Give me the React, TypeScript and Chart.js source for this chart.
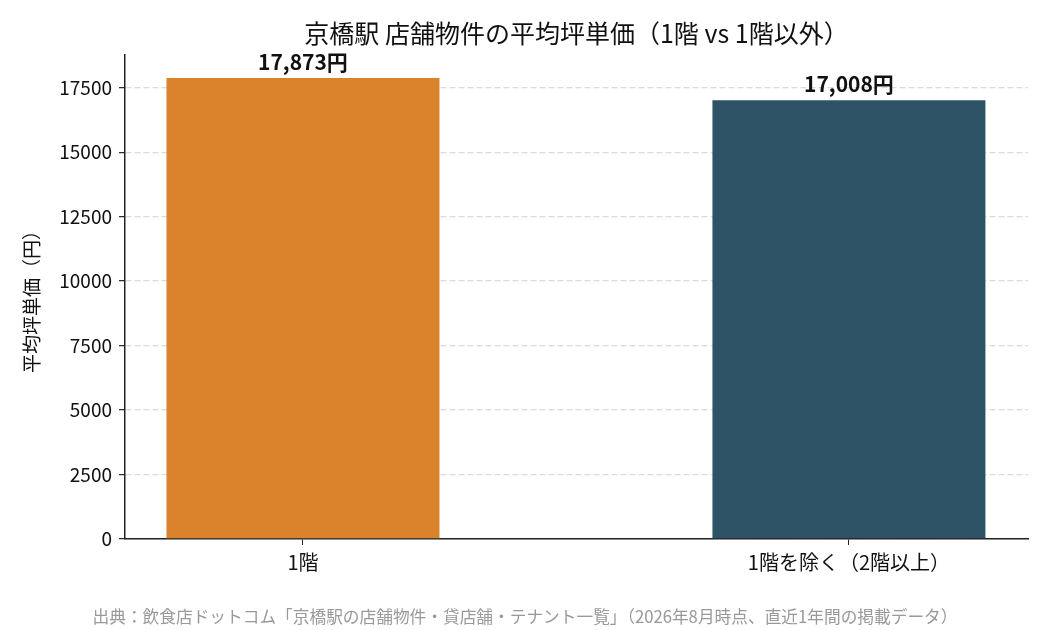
import { useEffect, useRef } from "react";
import { Chart, registerables, type ChartConfiguration, type Plugin } from "chart.js";

Chart.register(...registerables);

const FONT = "'Noto Sans CJK JP', 'Noto Sans', sans-serif";

const TITLE = "京橋駅 店舗物件の平均坪単価（1階 vs 1階以外）";
const Y_TITLE = "平均坪単価（円）";
const SOURCE =
  "出典：飲食店ドットコム「京橋駅の店舗物件・貸店舗・テナント一覧」（2026年8月時点、直近1年間の掲載データ）";

const categories = ["1階", "1階を除く（2階以上）"];
const avgPrice = [17873, 17008];
const barColors = ["#DB832C", "#2E5266"];
const yTicks = [0, 2500, 5000, 7500, 10000, 12500, 15000, 17500];

const fmtYen = (v: number) => v.toLocaleString("en-US") + "円";

// title over the plot area, source note at the bottom, value labels on bars
const textPlugin: Plugin<"bar"> = {
  id: "texts",
  afterDraw(chart) {
    const { ctx, chartArea, width, height } = chart;
    ctx.save();
    ctx.fillStyle = "#111";
    ctx.textAlign = "center";
    ctx.textBaseline = "middle";
    ctx.font = `25px ${FONT}`;
    ctx.fillText(TITLE, (chartArea.left + chartArea.right) / 2, chartArea.top - 22);

    ctx.fillStyle = "#999";
    ctx.font = `16.7px ${FONT}`;
    ctx.fillText(SOURCE, width / 2, height - 13);

    const meta = chart.getDatasetMeta(0);
    ctx.fillStyle = "#111";
    ctx.font = `bold 21px ${FONT}`;
    ctx.textBaseline = "bottom";
    meta.data.forEach((bar, i) => {
      ctx.fillText(fmtYen(avgPrice[i]), bar.x, bar.y - 6);
    });
    ctx.restore();
  },
};

export default function App() {
  const canvasRef = useRef<HTMLCanvasElement>(null);
  const chartRef = useRef<Chart | null>(null);

  useEffect(() => {
    document.body.style.margin = "0";
    const ctx = canvasRef.current?.getContext("2d");
    if (!ctx) return;
    chartRef.current?.destroy();

    const config: ChartConfiguration<"bar"> = {
      type: "bar",
      data: {
        datasets: [
          {
            data: avgPrice.map((v, i) => ({ x: i, y: v })),
            backgroundColor: barColors,
            borderWidth: 0,
            barPercentage: 0.5,
            categoryPercentage: 1,
          },
        ],
      },
      options: {
        responsive: false,
        animation: false,
        layout: { padding: { top: 55, right: 22, left: 0, bottom: 0 } },
        plugins: {
          legend: { display: false },
          title: { display: false },
          tooltip: { enabled: false },
        },
        scales: {
          x: {
            type: "linear",
            offset: false,
            min: -0.326,
            max: 1.328,
            afterBuildTicks: (s) => {
              s.ticks = categories.map((_, i) => ({ value: i }));
            },
            afterFit: (s) => {
              s.height = 91;
            },
            ticks: {
              color: "#111",
              font: { family: FONT, size: 20 },
              padding: 5,
              maxRotation: 0,
              autoSkip: false,
              callback: (v) => categories[Number(v)] ?? "",
            },
            grid: {
              offset: false,
              drawOnChartArea: false,
              drawTicks: true,
              tickLength: 6,
              color: "#222",
            },
            border: { display: true, color: "#222", width: 1.5 },
          },
          y: {
            min: 0,
            max: 18767,
            z: 1,
            afterBuildTicks: (s) => {
              s.ticks = yTicks.map((v) => ({ value: v }));
            },
            afterFit: (s) => {
              s.width = 125;
            },
            title: {
              display: true,
              text: Y_TITLE,
              color: "#111",
              font: { family: FONT, size: 19 },
              padding: { top: 20, bottom: 0 },
            },
            ticks: {
              color: "#111",
              font: { family: FONT, size: 19 },
              padding: 7,
              callback: (v) => String(v),
            },
            grid: {
              color: "rgba(176,176,176,0.45)",
              lineWidth: 1.3,
              tickColor: "#222",
              tickLength: 6,
              tickWidth: 1.2,
            },
            border: { display: true, color: "#222", width: 1.5, dash: [6, 3] },
          },
        },
      },
      plugins: [textPlugin],
    };

    chartRef.current = new Chart(ctx, config);
    return () => chartRef.current?.destroy();
  }, []);

  return (
    <div style={{ width: 1050, height: 630, background: "#fff" }}>
      <canvas ref={canvasRef} width={1050} height={630} />
    </div>
  );
}
